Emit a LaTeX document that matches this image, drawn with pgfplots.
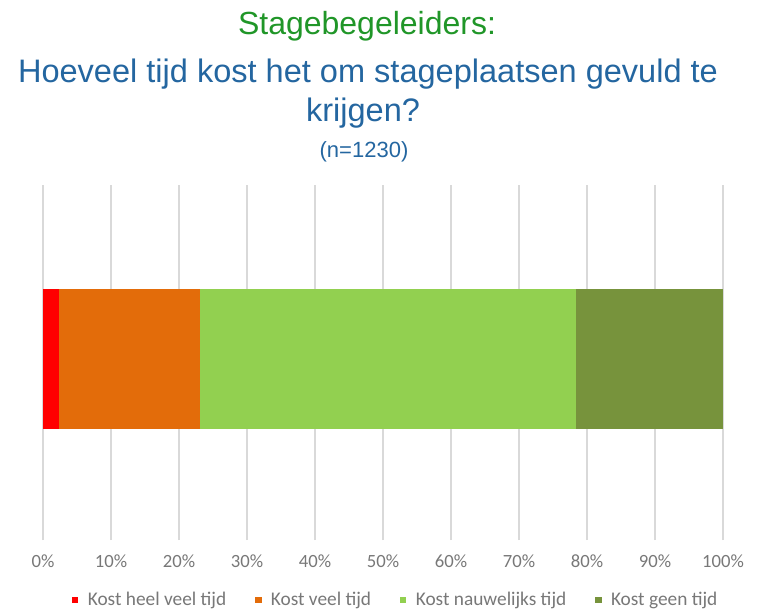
\documentclass[border=0pt]{standalone}
\usepackage{pgfplots}
\pgfplotsset{compat=1.18}
\usepackage{fontspec}
\setmainfont{Carlito}
\newfontfamily\arial{Liberation Sans}
\definecolor{cRed}{RGB}{255,0,0}
\definecolor{cOrange}{RGB}{227,108,10}
\definecolor{cLight}{RGB}{146,208,80}
\definecolor{cDark}{RGB}{119,147,60}
\definecolor{tGreen}{RGB}{32,150,40}
\definecolor{tBlue}{RGB}{36,102,160}
\definecolor{tickgray}{RGB}{120,120,120}
\definecolor{gridgray}{RGB}{217,217,217}
\begin{document}
\begin{tikzpicture}
\useasboundingbox (-32.25pt,-52.5pt) rectangle (537pt,405pt);
\begin{axis}[
  at={(0pt,0pt)}, anchor=south west,
  scale only axis, width=510pt, height=266.25pt,
  xbar stacked, bar width=105pt,
  xmin=0, xmax=100, ymin=0, ymax=355,
  axis line style={draw=none},
  ytick=\empty,
  xtick={0,10,...,100},
  xticklabel={\pgfmathprintnumber{\tick}\%},
  /pgf/number format/assume math mode=true,
  major tick length=0pt,
  xmajorgrids, grid style={gridgray, line width=1pt},
  tick label style={font=\fontsize{14}{16}\selectfont, text=tickgray},
  xticklabel style={yshift=-7.5pt},
  legend columns=4,
  legend style={draw=none, at={(0.519,-0.169)}, anchor=center,
    font=\fontsize{14.5}{16}\selectfont, text=tickgray,
    /tikz/every even column/.append style={column sep=19.5pt}},
  legend image code/.code={\fill[#1] (0pt,-2.6pt) rectangle (5pt,2.4pt); \path (10pt,0pt);},
]
\addplot[fill=cRed, draw=none] coordinates {(2.3,181)};
\addplot[fill=cOrange, draw=none] coordinates {(20.8,181)};
\addplot[fill=cLight, draw=none] coordinates {(55.3,181)};
\addplot[fill=cDark, draw=none] coordinates {(21.6,181)};
\legend{Kost heel veel tijd, Kost veel tijd, Kost nauwelijks tijd, Kost geen tijd}
\end{axis}
\node[anchor=base, text=tGreen, font=\arial\fontsize{24}{28}\selectfont] at (243pt,379pt) {Stagebegeleiders:};
\node[anchor=base, text=tBlue, font=\arial\fontsize{24.4}{28}\selectfont] at (243.75pt,343pt) {Hoeveel tijd kost het om stageplaatsen gevuld te};
\node[anchor=base, text=tBlue, font=\arial\fontsize{24.4}{28}\selectfont] at (240pt,313.7pt) {krijgen?};
\node[anchor=base, text=tBlue, font=\arial\fontsize{16.5}{20}\selectfont] at (240.75pt,286.5pt) {(n=1230)};
\end{tikzpicture}
\end{document}
